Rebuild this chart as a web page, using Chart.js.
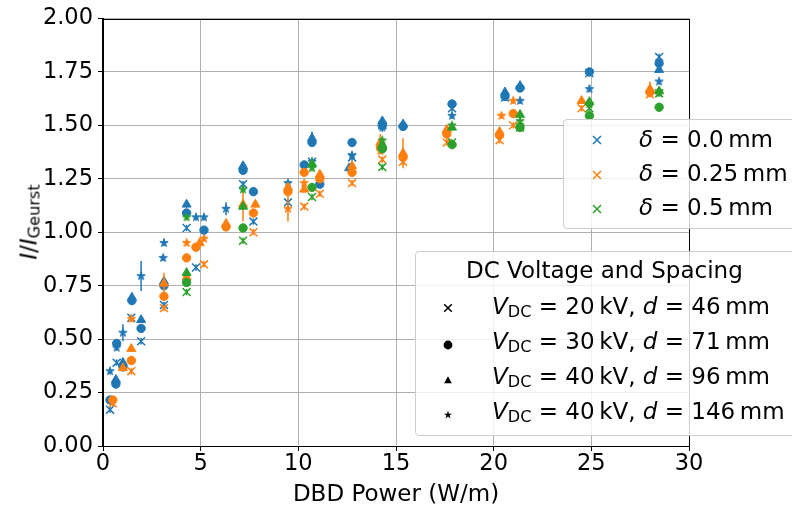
<!DOCTYPE html>
<html lang="en">
<head>
<meta charset="UTF-8">
<title>Normalised current vs DBD power</title>
<script src="https://cdn.jsdelivr.net/npm/chart.js"></script>
<style>
    body {
        margin: 0;
        background: #fff;
        overflow: hidden;
    }

    #wrap {
        position: relative;
        width: 792px;
        height: 508px;
        overflow: hidden;
        font-family: 'DejaVu Sans', sans-serif;
        color: #000;
    }

    #chart {
        position: absolute;
        left: 0;
        top: 0;
    }

    .lbl {
        position: absolute;
        font-size: 23px;
        line-height: 23px;
        white-space: nowrap;
    }

    .lbl sub {
        font-size: 70%;
        line-height: 0;
        vertical-align: -0.2em;
    }

    .legend {
        position: absolute;
        background: rgba(255, 255, 255, 0.8);
        border: 1px solid #cccccc;
        border-radius: 4px;
    }

    .mk {
        position: absolute;
        overflow: visible;
    }
</style>
</head>
<body>
<div id="wrap">
    <canvas id="chart" width="792" height="508"></canvas>

    <div class="lbl" style="left:396px; top:482px; transform:translateX(-50%);">DBD Power (W/m)</div>
    <div class="lbl" style="left:29px; top:222px; transform:translate(-50%,-50%) rotate(-90deg);"><i>I</i>/<i>I</i><sub>Geurst</sub></div>

    <!-- gap legend -->
    <div class="legend" style="left:563px; top:119px; width:260px; height:108px;"></div>
    <svg class="mk" width="12" height="12" style="left:591px; top:134px;" viewBox="-6 -6 12 12"><path d="M-4,-4L4,4M-4,4L4,-4" stroke="#1f77b4" stroke-width="1.5"/></svg>
    <svg class="mk" width="12" height="12" style="left:591px; top:169px;" viewBox="-6 -6 12 12"><path d="M-4,-4L4,4M-4,4L4,-4" stroke="#ff7f0e" stroke-width="1.5"/></svg>
    <svg class="mk" width="12" height="12" style="left:591px; top:203px;" viewBox="-6 -6 12 12"><path d="M-4,-4L4,4M-4,4L4,-4" stroke="#2ca02c" stroke-width="1.5"/></svg>
    <div class="lbl" style="left:639px; top:128px;"><i>δ</i> = 0.0&thinsp;mm</div>
    <div class="lbl" style="left:639px; top:162px;"><i>δ</i> = 0.25&thinsp;mm</div>
    <div class="lbl" style="left:639px; top:196px;"><i>δ</i> = 0.5&thinsp;mm</div>

    <!-- voltage / spacing legend -->
    <div class="legend" style="left:415px; top:251px; width:400px; height:183px;"></div>
    <div class="lbl" style="left:466px; top:259px;">DC Voltage and Spacing</div>
    <svg class="mk" width="12" height="12" style="left:442px; top:302px;" viewBox="-6 -6 12 12"><path d="M-3.8,-3.8L3.8,3.8M-3.8,3.8L3.8,-3.8" stroke="#000" stroke-width="1.5"/></svg>
    <svg class="mk" width="12" height="12" style="left:442px; top:339px;" viewBox="-6 -6 12 12"><circle r="4.4" fill="#000"/></svg>
    <svg class="mk" width="12" height="12" style="left:442px; top:374px;" viewBox="-6 -6 12 12"><path d="M0,-3.8L3.9,3.2L-3.9,3.2Z" fill="#000"/></svg>
    <svg class="mk" width="12" height="12" style="left:442px; top:409px;" viewBox="-6 -6 12 12"><path d="M0,-4.2L1,-1.3L4,-1.3L1.6,0.5L2.5,3.4L0,1.6L-2.5,3.4L-1.6,0.5L-4,-1.3L-1,-1.3Z" fill="#000"/></svg>
    <div class="lbl" style="left:492px; top:295px;"><i>V</i><sub>DC</sub> = 20&thinsp;kV, <i>d</i> = 46&thinsp;mm</div>
    <div class="lbl" style="left:492px; top:330px;"><i>V</i><sub>DC</sub> = 30&thinsp;kV, <i>d</i> = 71&thinsp;mm</div>
    <div class="lbl" style="left:492px; top:365px;"><i>V</i><sub>DC</sub> = 40&thinsp;kV, <i>d</i> = 96&thinsp;mm</div>
    <div class="lbl" style="left:492px; top:400px;"><i>V</i><sub>DC</sub> = 40&thinsp;kV, <i>d</i> = 146&thinsp;mm</div>
</div>

<script>
    // rows: [DBD power (W/m), I/I_Geurst, error (optional)]
    // delta = 0.0 mm
    const d0_20kV = [[0.36, 0.17], [0.7, 0.39], [1.45, 0.60], [1.95, 0.49], [3.12, 0.66], [4.28, 1.02], [4.76, 0.835],
        [7.17, 1.225], [7.7, 1.05], [9.47, 1.14], [10.7, 1.33], [12.75, 1.35], [14.3, 1.50], [17.87, 1.58],
        [20.58, 1.63], [24.9, 1.745], [28.47, 1.82]];
    const d0_30kV = [[0.36, 0.215], [0.66, 0.29], [0.7, 0.48], [1.02, 0.37], [1.48, 0.68], [1.95, 0.55], [3.12, 0.75],
        [4.28, 1.09], [5.17, 1.01], [7.17, 1.29], [7.7, 1.19], [10.3, 1.315], [10.7, 1.42], [11.1, 1.225],
        [12.75, 1.42], [14.3, 1.50, 0.03], [15.36, 1.495], [17.87, 1.60], [20.58, 1.635], [21.35, 1.675],
        [24.9, 1.75], [28.47, 1.79]];
    const d0_40kV96 = [[0.66, 0.31], [1.02, 0.39], [1.48, 0.695], [1.95, 0.59], [3.12, 0.77], [4.28, 1.13],
        [7.17, 1.31], [10.7, 1.44, 0.03], [12.6, 1.30], [14.3, 1.52], [15.36, 1.505], [20.58, 1.655],
        [21.35, 1.685], [28.47, 1.76]];
    const d0_40kV146 = [[0.36, 0.35], [0.7, 0.46], [1.02, 0.53, 0.04], [1.95, 0.795, 0.07], [3.12, 0.95], [3.08, 0.88],
        [4.76, 1.07], [5.17, 1.07], [6.3, 1.11, 0.03], [9.47, 1.23], [10.7, 1.33], [12.75, 1.36], [14.3, 1.49],
        [17.87, 1.545], [21.35, 1.615], [24.9, 1.67], [28.47, 1.705]];

    // delta = 0.25 mm
    const d25_20kV = [[0.5, 0.20], [1.45, 0.35], [3.12, 0.645], [5.17, 0.85], [7.7, 1.0], [10.3, 1.12], [11.1, 1.18],
        [12.75, 1.23], [14.3, 1.34], [15.36, 1.33], [17.6, 1.42], [20.3, 1.43], [21.0, 1.50], [24.5, 1.58],
        [28.0, 1.645]];
    const d25_30kV = [[0.5, 0.215], [1.45, 0.40], [3.12, 0.70], [4.28, 0.88], [4.76, 0.93], [6.3, 1.025], [7.7, 1.09],
        [9.47, 1.19], [10.3, 1.28], [11.1, 1.25], [12.75, 1.28], [14.2, 1.40], [15.36, 1.35], [17.6, 1.46, 0.04],
        [20.3, 1.455], [21.0, 1.555], [28.0, 1.655]];
    const d25_40kV96 = [[1.02, 0.365], [1.45, 0.455], [3.12, 0.76, 0.05], [4.28, 0.79], [4.95, 0.95], [6.3, 1.04],
        [7.17, 1.13, 0.08], [7.8, 1.13], [9.47, 1.21], [10.3, 1.20], [11.1, 1.27], [12.75, 1.31], [14.2, 1.42, 0.04],
        [15.36, 1.37, 0.07], [17.6, 1.48], [20.3, 1.47], [24.5, 1.615], [28.0, 1.67, 0.035]];
    const d25_40kV146 = [[1.45, 0.595], [4.28, 0.95], [5.17, 0.97], [9.47, 1.11, 0.06], [10.3, 1.23], [14.2, 1.38],
        [20.4, 1.545], [21.0, 1.615], [28.0, 1.65]];

    // delta = 0.5 mm
    const d5_20kV = [[4.28, 0.72], [7.17, 0.96], [10.7, 1.165], [14.3, 1.305], [17.87, 1.42], [21.35, 1.49],
        [24.9, 1.58], [28.47, 1.65]];
    const d5_30kV = [[4.28, 0.765], [7.17, 1.02], [10.7, 1.21], [14.3, 1.39], [17.87, 1.41], [21.35, 1.49],
        [24.9, 1.545], [28.47, 1.585]];
    const d5_40kV96 = [[4.28, 0.81], [7.17, 1.12], [10.7, 1.32], [14.3, 1.41], [17.87, 1.49], [21.35, 1.55],
        [24.9, 1.61], [28.47, 1.66]];
    const d5_40kV146 = [[4.28, 1.07], [7.17, 1.20], [10.7, 1.30], [14.3, 1.43], [17.87, 1.50], [21.35, 1.52],
        [24.9, 1.60], [28.47, 1.65]];

    const defaultErr = 0.015;

    const xTickValues = [0, 5, 10, 15, 20, 25, 30];
    const xTickLabels = ['0', '5', '10', '15', '20', '25', '30'];
    const yTickValues = [0, 0.25, 0.5, 0.75, 1.0, 1.25, 1.5, 1.75, 2.0];
    const yTickLabels = ['0.00', '0.25', '0.50', '0.75', '1.00', '1.25', '1.50', '1.75', '2.00'];

    const colors = ['#1f77b4', '#ff7f0e', '#2ca02c'];
    const groups = [
        [d0_20kV, d0_30kV, d0_40kV96, d0_40kV146],
        [d25_20kV, d25_30kV, d25_40kV96, d25_40kV146],
        [d5_20kV, d5_30kV, d5_40kV96, d5_40kV146]
    ];

    // five-pointed star like matplotlib's '*' marker
    function starImage(color, r) {
        const size = Math.ceil(r * 2) + 3;
        const c = document.createElement('canvas');
        c.width = size;
        c.height = size;
        const g = c.getContext('2d');
        g.translate(size / 2, size / 2);
        g.beginPath();
        for (let i = 0; i < 10; i++) {
            const rr = i % 2 ? r * 0.382 : r;
            const a = -Math.PI / 2 + i * Math.PI / 5;
            g.lineTo(rr * Math.cos(a), rr * Math.sin(a));
        }
        g.closePath();
        g.fillStyle = color;
        g.fill();
        g.strokeStyle = color;
        g.lineWidth = 1;
        g.stroke();
        return c;
    }

    function markerStyle(kind, color) {
        if (kind === 0) {
            return { pointStyle: 'crossRot', pointRadius: 5.6, pointBorderWidth: 1.5, pointBorderColor: color };
        }
        if (kind === 1) {
            return { pointStyle: 'circle', pointRadius: 4.2, pointBorderWidth: 1, pointBorderColor: color, pointBackgroundColor: color };
        }
        if (kind === 2) {
            return { pointStyle: 'triangle', pointRadius: 5.2, pointBorderWidth: 1, pointBorderColor: color, pointBackgroundColor: color };
        }
        return { pointStyle: starImage(color, 4.4), pointRadius: 4 };
    }

    const datasets = [];
    groups.forEach((series, ci) => {
        series.forEach((rows, mi) => {
            datasets.push(Object.assign({
                data: rows.map(r => ({ x: r[0], y: r[1], err: r.length > 2 ? r[2] : defaultErr })),
                errColor: colors[ci],
                order: (2 - ci) * 4 + (3 - mi),
                showLine: false
            }, markerStyle(mi, colors[ci])));
        });
    });

    // vertical error bars, drawn just under each dataset's markers
    const errorBars = {
        id: 'errorBars',
        beforeDatasetDraw(chart, args) {
            const ds = chart.data.datasets[args.index];
            const yScale = chart.scales.y;
            const ctx = chart.ctx;
            ctx.save();
            ctx.strokeStyle = ds.errColor;
            ctx.lineWidth = 1.5;
            args.meta.data.forEach((pt, i) => {
                const d = ds.data[i];
                ctx.beginPath();
                ctx.moveTo(pt.x, yScale.getPixelForValue(d.y - d.err));
                ctx.lineTo(pt.x, yScale.getPixelForValue(d.y + d.err));
                ctx.stroke();
            });
            ctx.restore();
        }
    };

    // full box around the axes
    const frame = {
        id: 'frame',
        afterDatasetsDraw(chart) {
            const a = chart.chartArea;
            const ctx = chart.ctx;
            ctx.save();
            ctx.strokeStyle = '#000';
            ctx.lineWidth = 1;
            ctx.strokeRect(Math.round(a.left) - 0.5, Math.round(a.top) + 0.5,
                Math.round(a.right - a.left) + 1, Math.round(a.bottom - a.top) - 1);
            ctx.restore();
        }
    };

    const tickFont = { family: 'DejaVu Sans', size: 22.5 };

    new Chart(document.getElementById('chart'), {
        type: 'scatter',
        data: { datasets: datasets },
        options: {
            responsive: false,
            animation: false,
            events: [],
            layout: { padding: { left: 0, right: 103, top: 18, bottom: 0 } },
            plugins: {
                legend: { display: false },
                tooltip: { enabled: false }
            },
            scales: {
                x: {
                    type: 'linear',
                    min: 0,
                    max: 30,
                    afterFit: s => { s.height = 62; },
                    afterBuildTicks: s => { s.ticks = xTickValues.map(v => ({ value: v })); },
                    grid: { color: '#b0b0b0', lineWidth: 1, tickLength: 5, tickColor: '#000' },
                    border: { color: '#000', width: 1 },
                    ticks: {
                        font: tickFont,
                        color: '#000',
                        padding: 0,
                        autoSkip: false,
                        maxRotation: 0,
                        callback: (v, i) => xTickLabels[i]
                    }
                },
                y: {
                    type: 'linear',
                    min: 0,
                    max: 2,
                    afterFit: s => { s.width = 103; },
                    afterBuildTicks: s => { s.ticks = yTickValues.map(v => ({ value: v })); },
                    grid: { color: '#b0b0b0', lineWidth: 1, tickLength: 5, tickColor: '#000' },
                    border: { color: '#000', width: 1 },
                    ticks: {
                        font: tickFont,
                        color: '#000',
                        padding: 5,
                        autoSkip: false,
                        callback: (v, i) => yTickLabels[i]
                    }
                }
            }
        },
        plugins: [errorBars, frame]
    });
</script>
</body>
</html>
